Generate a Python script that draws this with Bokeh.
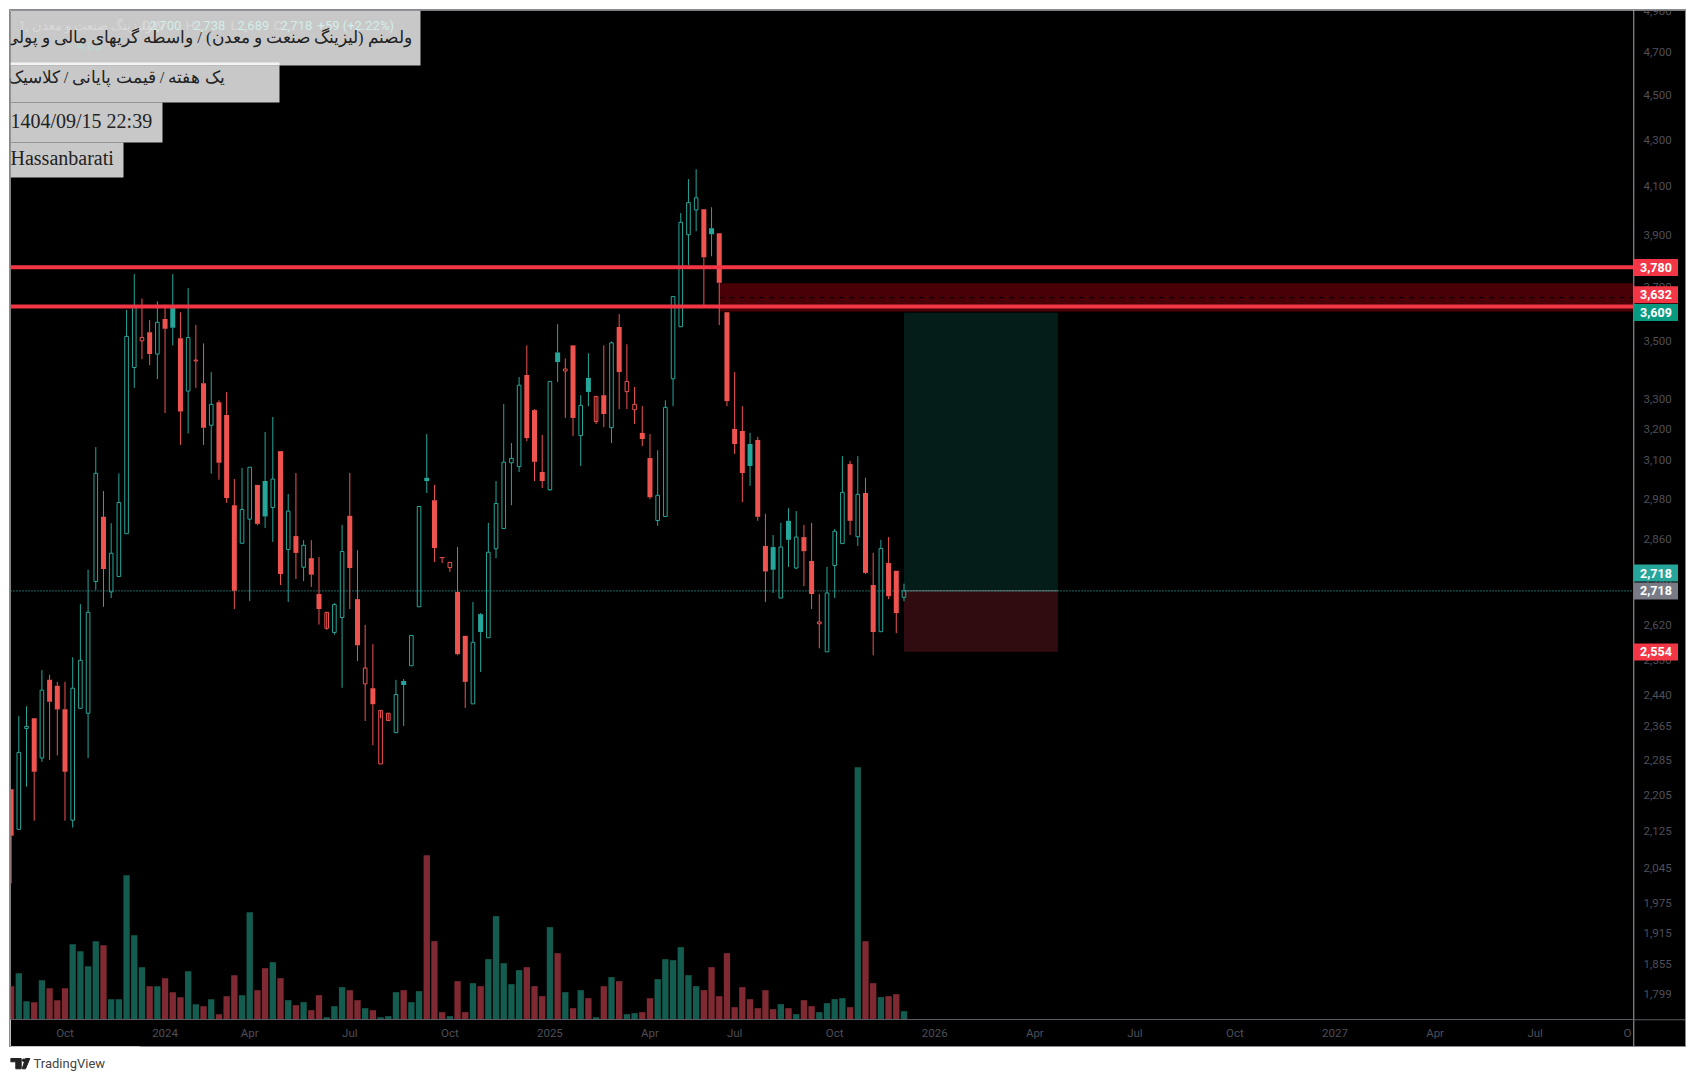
from bokeh.core.properties import value
from bokeh.embed import file_html
from bokeh.layouts import column, row
from bokeh.models import BoxAnnotation, FixedTicker, Label, LinearScale, Range1d
from bokeh.plotting import figure
from bokeh.resources import INLINE

# weekly bars
opens = [2220, 2131, 2362, 2387, 2292, 2482, 2467, 2409, 2151, 2411, 2399, 2744, 2931, 2715, 2758, 2881, 3413, 3507,
         3538, 3460, 3586, 3633, 3516, 3332, 3436, 3359, 3218, 3294, 3252, 2966, 2853, 2924, 3028, 3040, 2959, 3134,
         2835, 2874, 2784, 2810, 2709, 2616, 2605, 2645, 2934, 2695, 2472, 2461, 2278, 2381, 2352, 2479, 2518, 2674,
         3050, 2981, 2813, 2783, 2715, 2596, 2422, 2654, 2591, 2837, 2896, 3097, 3085, 3387, 3268, 3068, 3013, 3466,
         3401, 3491, 3184, 3377, 3230, 3318, 3210, 3557, 3330, 3269, 3193, 3112, 2920, 2932, 3374, 3558, 3908, 4008,
         4011, 3934, 3914, 3611, 3206, 3199, 3157, 3170, 2845, 2842, 2698, 2919, 2782, 2871, 2802, 2628, 2554, 2789,
         2852, 3093, 2872, 3003, 2734, 2607, 2796, 2774, 2700]
highs = [2220, 2392, 2416, 2387, 2507, 2495, 2477, 2477, 2540, 2681, 2777, 3147, 3009, 2912, 3064, 3619, 3754, 3662,
         3582, 3651, 3639, 3754, 3611, 3701, 3564, 3498, 3397, 3301, 3329, 3046, 3081, 3083, 3028, 3196, 3245, 3134,
         3000, 3065, 2862, 2862, 2813, 2659, 2684, 2907, 3065, 2833, 2625, 2574, 2406, 2399, 2482, 2484, 2597, 2962,
         3189, 3028, 2813, 2798, 2842, 2596, 2687, 2657, 2913, 3040, 3288, 3160, 3380, 3491, 3271, 3186, 3365, 3567,
         3445, 3491, 3318, 3463, 3314, 3491, 3505, 3604, 3495, 3346, 3281, 3189, 3137, 3301, 3669, 3995, 4136, 4178,
         4011, 4019, 3914, 3611, 3397, 3281, 3193, 3180, 2940, 2877, 2913, 2957, 2948, 2907, 2913, 2709, 2785, 2895,
         3118, 3103, 3118, 3050, 2825, 2863, 2871, 2774, 2738]
lows = [2017, 2131, 2226, 2150, 2283, 2287, 2298, 2150, 2135, 2411, 2292, 2720, 2674, 2698, 2758, 2881, 3343, 3442,
        3421, 3373, 3258, 3491, 3154, 3191, 3343, 3154, 3063, 3044, 2973, 2668, 2853, 2690, 2906, 2898, 2857, 2734,
        2687, 2751, 2745, 2729, 2626, 2612, 2599, 2462, 2668, 2530, 2380, 2322, 2278, 2381, 2352, 2368, 2518, 2674,
        3003, 2799, 2796, 2771, 2545, 2412, 2422, 2502, 2591, 2810, 2896, 2966, 3068, 3166, 3040, 3018, 3009, 3363,
        3242, 3183, 3087, 3281, 3222, 3212, 3160, 3271, 3271, 3222, 3150, 2984, 2904, 2932, 3281, 3558, 3788, 3922,
        3633, 3823, 3564, 3281, 3125, 2975, 3025, 2919, 2687, 2712, 2698, 2785, 2779, 2731, 2668, 2563, 2554, 2698,
        2852, 2877, 2845, 2765, 2545, 2607, 2695, 2603, 2689]
closes = [2117, 2305, 2367, 2260, 2456, 2427, 2408, 2260, 2461, 2532, 2659, 3064, 2779, 2824, 2974, 3523, 3628, 3519,
          3460, 3574, 3551, 3554, 3263, 3519, 3439, 3210, 3287, 3097, 2988, 2718, 2953, 3083, 2910, 2932, 3046, 2765,
          2948, 2825, 2847, 2763, 2668, 2659, 2680, 2829, 2782, 2571, 2512, 2421, 2406, 2399, 2445, 2469, 2597, 2962,
          3040, 2839, 2810, 2798, 2548, 2477, 2579, 2606, 2827, 2971, 3099, 3111, 3352, 3176, 3100, 3040, 3365, 3432,
          3408, 3242, 3284, 3329, 3314, 3255, 3500, 3397, 3365, 3287, 3173, 2990, 2996, 3277, 3669, 3958, 4038, 4058,
          3819, 3910, 3721, 3298, 3157, 3065, 3087, 2931, 2772, 2777, 2842, 2863, 2871, 2830, 2709, 2633, 2712, 2888,
          3005, 2919, 2999, 2768, 2606, 2838, 2703, 2657, 2718]
# relative weekly volume
volumes = [100, 139, 55, 52, 118, 94, 58, 94, 226, 205, 160, 235, 223, 61, 61, 433, 253, 157, 100, 100, 124, 82, 67,
           145, 46, 40, 61, 16, 70, 133, 73, 322, 88, 154, 172, 124, 58, 43, 52, 28, 73, 7, 40, 97, 88, 58, 34, 28, 7,
           10, 82, 88, 52, 85, 493, 235, 22, 10, 115, 22, 109, 100, 181, 310, 169, 106, 148, 157, 100, 70, 277, 199,
           82, 34, 88, 64, 7, 100, 127, 115, 16, 19, 22, 64, 121, 181, 178, 217, 133, 100, 88, 157, 70, 199, 37, 97,
           61, 34, 88, 31, 46, 34, 16, 58, 40, 22, 49, 61, 64, 37, 757, 235, 109, 67, 70, 76, 25]

# hollow bars where the wick also shows inside the body
inner_bars = [41, 48, 49, 76]
inner_lows = [2616, 2387, 2381, 3230]

price_ticks = [4900, 4700, 4500, 4300, 4100, 3900, 3700, 3500, 3300, 3200, 3100, 2980, 2860, 2740, 2620, 2530, 2440,
               2365, 2285, 2205, 2125, 2045, 1975, 1915, 1855, 1799]
time_ticks = [7, 20, 31, 44, 57, 70, 83, 94, 107, 120, 133, 146, 159, 172, 185, 198, 210]
time_labels = ["Oct", "2024", "Apr", "Jul", "Oct", "2025", "Apr", "Jul", "Oct", "2026", "Apr", "Jul", "Oct", "2027",
               "Apr", "Jul", "O"]

levels = [3780, 3632]
zone_left, zone_top, zone_mid, zone_bottom = 92, 3719, 3665, 3614
pos_left, pos_right, pos_target, pos_entry, pos_stop = 116, 136, 3609, 2718, 2554
last_close = 2718

# price tags; crowded ones sit a little off their own level, as on the original scale
tag_texts = ["3,780", "3,632", "3,609", "2,718", "2,718", "2,554"]
tag_prices = [3780, 3676, 3610, 2768, 2718, 2554]
tag_colors = ["#f23645", "#f23645", "#089981", "#26a69a", "#787b86", "#f23645"]

TEAL = "#26a69a"
RED = "#ef5350"
AXIS = "#5c5c66"
TICK_TEXT = "#4f4f58"
X_MAX = 210.78
PRICE_MIN, PRICE_MAX = 1755.4, 4912
PANEL_MIN = 1708.2  # the price panel also runs down beside the time axis
BOTTOM_PX = 1019  # page y of the frame bottom

ups = [c >= o for o, c in zip(opens, closes)]
rising = [False] + [c >= p for p, c in zip(closes, closes[1:])]
colors = [TEAL if r else RED for r in rising]
bars = list(range(len(opens)))

p = figure(width=1623, height=1036, output_backend="svg", toolbar_location=None, tools="",
           y_axis_type="log", x_range=Range1d(-0.08, X_MAX), y_range=Range1d(PRICE_MIN, PRICE_MAX),
           background_fill_color="#000000", border_fill_color="#000000",
           min_border_left=0, min_border_top=0, min_border_right=0, min_border_bottom=27)
p.outline_line_color = None
p.grid.visible = False
p.yaxis.visible = False

p.extra_y_ranges = {"vol": Range1d(0, 3027)}
p.extra_y_scales = {"vol": LinearScale()}
p.vbar(bars, 0.82, volumes, 0, y_range_name="vol", line_color=None,
       fill_color=["#135c4f" if u else "#7f2a33" for u in ups])

# zone and long position behind the bars
p.quad(left=[zone_left], right=[X_MAX], top=[zone_top], bottom=[zone_bottom], fill_color="#4a0007", line_color=None)
p.segment([zone_left], [zone_mid], [X_MAX], [zone_mid], line_color="#000000", line_dash="5 5")
p.quad(left=[pos_left], right=[pos_right], top=[pos_target], bottom=[pos_entry], fill_color="#051d19", line_color=None)
p.quad(left=[pos_left], right=[pos_right], top=[pos_entry], bottom=[pos_stop], fill_color="#300c10", line_color=None)

p.segment([-0.08], [last_close], [X_MAX], [last_close], line_color=TEAL, line_dash="1 2", line_width=1.2)
p.segment([pos_left], [pos_entry], [pos_right], [pos_entry], line_color="#5f7b78")

p.segment(bars, [max(o, c) for o, c in zip(opens, closes)], bars, highs, line_color=colors)
p.segment(bars, [min(o, c) for o, c in zip(opens, closes)], bars, lows, line_color=colors)
p.segment(inner_bars, [highs[i] for i in inner_bars], inner_bars, inner_lows, line_color=RED)

solid = [i for i in bars if not ups[i]]
hollow = [i for i in bars if ups[i]]
p.vbar(solid, 0.65, [opens[i] for i in solid], [closes[i] for i in solid], fill_color=[colors[i] for i in solid],
       line_color=None)
p.vbar(hollow, 0.47, [closes[i] for i in hollow], [opens[i] for i in hollow], fill_color=None,
       line_color=[colors[i] for i in hollow], line_width=1)

for level in levels:
    p.segment([-0.08], [level], [X_MAX], [level], line_color="#f23645", line_width=4)

p.xaxis.ticker = FixedTicker(ticks=time_ticks)
p.xaxis.major_label_overrides = dict(zip(time_ticks, time_labels))
p.xaxis.axis_line_color = AXIS
p.xaxis.major_tick_line_color = None
p.xaxis.minor_tick_line_color = None
p.xaxis.major_tick_out = 0
p.xaxis.major_tick_in = 0
p.xaxis.major_label_text_color = TICK_TEXT
p.xaxis.major_label_text_font = "Roboto"
p.xaxis.major_label_text_font_size = "11.5px"
p.xaxis.major_label_standoff = 6


def sy(y_px):
    return BOTTOM_PX - y_px


def box(x0, x1, y0, y1, color):
    p.add_layout(BoxAnnotation(left=x0 - 10, right=x1 - 10, top=sy(y0), bottom=sy(y1), left_units="screen",
                               right_units="screen", top_units="screen", bottom_units="screen", fill_color=color,
                               fill_alpha=1, line_color=None, level="annotation"))


def note(x_px, y_px, text, color="#222222", font="Liberation Serif", size="20px", align="left"):
    p.add_layout(Label(x=x_px - 10, y=sy(y_px), x_units="screen", y_units="screen", text=text, text_color=color,
                       text_font=font, text_font_size=size, text_align=align, text_baseline="middle",
                       level="annotation"))


# title cards pasted over the corner of the chart
box(10, 420, 10, 65, "#c8c8c8")
box(10, 279, 62, 65, "#f4f4f4")
box(10, 279, 65, 102, "#c8c8c8")
box(10, 162, 102, 142, "#c8c8c8")
box(10, 123, 142, 177, "#c8c8c8")

# chart legend showing faintly through the first card
for x_px, text, color in [(18, "ولیزینگ صنعت و معدن ,1W", "#d8d8d8"), (141, "O", "#d8d8d8"), (149, "2,700", "#d3ede8"),
                          (185, "H", "#d8d8d8"), (193, "2,738", "#d3ede8"), (230, "L", "#d8d8d8"),
                          (237, "2,689", "#d3ede8"), (273, "C", "#d8d8d8"), (280, "2,718", "#d3ede8"),
                          (317, "+59 (+2.22%)", "#d3ede8")]:
    note(x_px, 25, text, color=color, font="Roboto", size="13px")
note(76, 45, "4.05", color="#b9d8d2", font="Roboto", size="13px")

note(411, 37, "ولصنم (لیزینگ صنعت و معدن) / واسطه گریهای مالی و پولی", size="16.5px", align="right")
note(224, 77, "یک هفته / قیمت پایانی / کلاسیک", size="16.5px", align="right")
note(10, 120, "1404/09/15 22:39")
note(10, 157, "Hassanbarati")

# price scale: a narrow black panel on the same log scale, x counted in px
scale = figure(frame_width=52, frame_height=1036, output_backend="svg", toolbar_location=None, tools="",
               y_axis_type="log", x_axis_location=None, y_axis_location=None,
               x_range=Range1d(0, 52), y_range=Range1d(PANEL_MIN, PRICE_MAX),
               background_fill_color="#000000", border_fill_color="#000000",
               min_border=0, min_border_left=0, min_border_right=0, min_border_top=0, min_border_bottom=0)
scale.outline_line_color = None
scale.grid.visible = False
scale.text([10] * len(price_ticks), price_ticks, text=[f"{t:,}" for t in price_ticks], text_color=TICK_TEXT,
           text_font=value("Roboto"), text_font_size="11.5px", text_baseline="middle", y_offset=-1.5)
scale.segment([0.5], [PANEL_MIN], [0.5], [PRICE_MAX], line_color=AXIS)
scale.segment([0], [PRICE_MIN], [52], [PRICE_MIN], line_color=AXIS)
scale.rect([22.5] * 6, tag_prices, width=44, height=17, height_units="screen", fill_color=tag_colors, line_color=None)
scale.text([22.5] * 6, tag_prices, text=tag_texts, text_color="#ffffff", text_font=value("Roboto"),
           text_font_size="12.5px", text_font_style="bold", text_align="center", text_baseline="middle")

chart = row(p, scale, margin=(10, 0, 0, 10), styles={"outline": "1px solid #8a8a94"})

# attribution strip under the chart
logo = figure(frame_width=130, frame_height=30, output_backend="svg", toolbar_location=None, tools="", x_axis_type=None,
              y_axis_type=None, x_range=Range1d(10, 140), y_range=Range1d(30, 0), min_border=0, min_border_left=0,
              min_border_right=0, min_border_top=0, min_border_bottom=0,
              margin=(0, 0, 0, 10), background_fill_color="#ffffff", border_fill_color="#ffffff")
logo.outline_line_color = None
logo.grid.visible = False
logo.patch([10, 20.7, 20.7, 15.3, 15.3, 10], [12, 12, 22.3, 22.3, 15.3, 15.3], color="#222222")
logo.scatter([23.3], [13.7], size=3.6, color="#222222", line_color=None)
logo.patch([25, 29.3, 25, 21.7], [12, 12, 22.3, 22.3], color="#222222")
logo.text([33], [17], text=["TradingView"], text_color="#444444", text_font_size="13px", text_baseline="middle",
          text_font=value("Roboto"))

open("out.html", "w").write(file_html(column(chart, logo), INLINE))
